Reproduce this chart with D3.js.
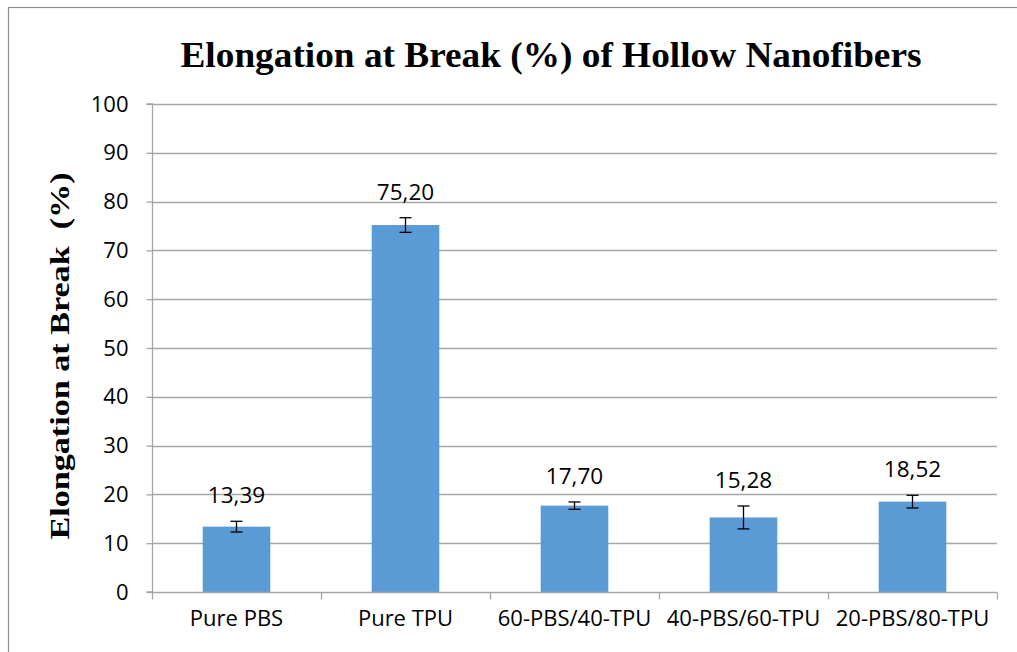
<!DOCTYPE html>
<html><head><meta charset="utf-8">
<script src="https://cdn.jsdelivr.net/npm/d3@7"></script>
<style>body{margin:0;background:#fff}</style>
</head><body>
<svg id="c" width="1017" height="652"></svg>
<script>
const categories = ["Pure PBS","Pure TPU","60-PBS/40-TPU","40-PBS/60-TPU","20-PBS/80-TPU"];
const values = [13.39, 75.20, 17.70, 15.28, 18.52];
const labels = ["13,39","75,20","17,70","15,28","18,52"];
const errors = [1.1, 1.5, 0.75, 2.35, 1.3];
const yTicks = [0,10,20,30,40,50,60,70,80,90,100];

const svg = d3.select("#c");
const m = {l:152, r:997, t:104, b:592};
const sans = "Open Sans, Liberation Sans, sans-serif";
const serif = "Liberation Serif, Times New Roman, serif";
svg.append("rect").attr("x",8.5).attr("y",7.5).attr("width",1100).attr("height",700)
  .attr("fill","none").attr("stroke","#8c8c8c").attr("stroke-width",1.2);

const x = d3.scaleBand().domain(categories).range([m.l,m.r]).paddingInner(0.6).paddingOuter(0.3);
const xb = d3.scaleBand().domain(categories).range([m.l,m.r]);
const y = d3.scaleLinear().domain([0,100]).range([m.b,m.t]);

// gridlines
svg.append("g").selectAll("line").data(yTicks.filter(d=>d>0)).join("line")
  .attr("x1",m.l).attr("x2",m.r).attr("y1",d=>Math.round(y(d))+0.5).attr("y2",d=>Math.round(y(d))+0.5)
  .attr("stroke","#a6a6a6").attr("stroke-width",1.3);

// y axis
const ya = svg.append("g").attr("transform",`translate(${m.l+0.5},0)`)
  .call(d3.axisLeft(y).tickValues(yTicks).tickSize(6).tickPadding(18).tickFormat(d3.format("d")));
ya.select(".domain").attr("stroke","#a6a6a6").attr("stroke-width",1.3).attr("d",`M-6,${m.b}H0V${m.t}H-6`);
ya.selectAll(".tick line").attr("stroke","#a6a6a6").attr("stroke-width",1.3);
ya.selectAll("text").attr("font-family",sans).attr("font-size",22).attr("fill","#000");

// bars
svg.append("g").selectAll("rect").data(values).join("rect")
  .attr("x",(d,i)=>x(categories[i])).attr("width",x.bandwidth())
  .attr("y",d=>y(d)).attr("height",d=>y(0)-y(d)).attr("fill","#5b9bd5");

// x axis
const xa = svg.append("g").attr("transform",`translate(0,${Math.round(y(0))+0.5})`)
  .call(d3.axisBottom(xb).tickSize(0).tickPadding(18));
xa.select(".domain").attr("stroke","#a6a6a6").attr("stroke-width",1.3).attr("d",`M${m.l},0H${m.r}`);
xa.selectAll("text").attr("font-family",sans).attr("font-size",22).attr("fill","#000");
const bounds = categories.map(c=>xb(c)).concat([m.r]);
xa.append("g").selectAll("line").data(bounds).join("line")
  .attr("x1",d=>Math.round(d)+0.5).attr("x2",d=>Math.round(d)+0.5).attr("y1",0).attr("y2",7)
  .attr("stroke","#a6a6a6").attr("stroke-width",1.3);

// error bars
const eg = svg.append("g").attr("stroke","#000").attr("stroke-width",1.3);
values.forEach((v,i)=>{
  const cx = x(categories[i]) + x.bandwidth()/2;
  eg.append("line").attr("x1",cx).attr("x2",cx).attr("y1",y(v+errors[i])).attr("y2",y(v-errors[i]));
  [v+errors[i], v-errors[i]].forEach(e=>{
    eg.append("line").attr("x1",cx-6).attr("x2",cx+6).attr("y1",y(e)).attr("y2",y(e));
  });
});

// value labels
svg.append("g").selectAll("text").data(values).join("text")
  .attr("x",(d,i)=>x(categories[i])+x.bandwidth()/2)
  .attr("y",(d,i)=>y(d+errors[i])-18)
  .attr("text-anchor","middle").attr("font-family",sans)
  .attr("font-size",22.5).attr("fill","#000").text((d,i)=>labels[i]);

// title
svg.append("text").attr("x",551).attr("y",67).attr("text-anchor","middle")
  .attr("font-family",serif).attr("font-weight","bold")
  .attr("font-size",35).attr("textLength",741).attr("lengthAdjust","spacingAndGlyphs")
  .text("Elongation at Break (%) of Hollow Nanofibers");

// y label
svg.append("text").attr("transform","translate(69,356) rotate(-90)").attr("text-anchor","middle")
  .attr("font-family",serif).attr("font-weight","bold")
  .attr("font-size",27).attr("textLength",367).attr("lengthAdjust","spacingAndGlyphs")
  .style("white-space","pre").text("Elongation at Break  (%)");
</script>
</body></html>
